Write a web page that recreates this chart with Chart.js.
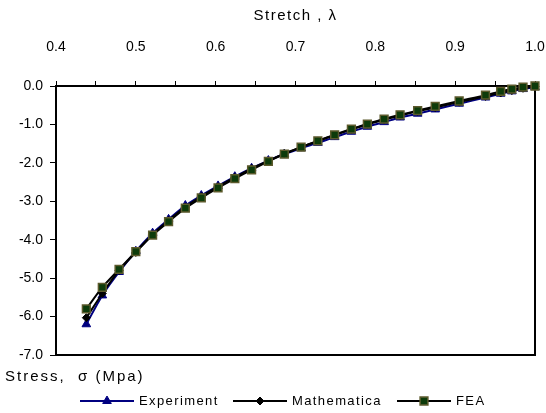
<!DOCTYPE html>
<html>
<head>
<meta charset="utf-8">
<script src="https://cdn.jsdelivr.net/npm/chart.js@4.4.0/dist/chart.umd.min.js"></script>
<style>
  html, body { margin: 0; padding: 0; background: #fff; }
  #wrap { position: relative; width: 546px; height: 413px; }
</style>
</head>
<body>
<div id="wrap"><canvas id="chart-stress" width="546" height="413"></canvas></div>
<script>
// stretch (lambda) values
const stretch = [0.438, 0.458, 0.479, 0.500, 0.521, 0.541, 0.562, 0.582, 0.603, 0.624,
  0.645, 0.666, 0.686, 0.707, 0.728, 0.749, 0.770, 0.790, 0.811, 0.831,
  0.853, 0.875, 0.905, 0.938, 0.957, 0.971, 0.985, 1.000];

// stress (Mpa)
const experiment = [-6.20, -5.45, -4.84, -4.30, -3.83, -3.47, -3.11, -2.85, -2.60, -2.36,
  -2.14, -1.94, -1.77, -1.62, -1.48, -1.33, -1.19, -1.06, -0.94, -0.82,
  -0.72, -0.61, -0.46, -0.30, -0.20, -0.14, -0.08, -0.03];
const mathematica = [-6.03, -5.40, -4.80, -4.33, -3.87, -3.50, -3.15, -2.88, -2.62, -2.38,
  -2.15, -1.95, -1.76, -1.59, -1.43, -1.28, -1.13, -1.00, -0.88, -0.77,
  -0.66, -0.56, -0.42, -0.27, -0.18, -0.12, -0.06, -0.01];
const fea = [-5.80, -5.24, -4.77, -4.31, -3.88, -3.53, -3.18, -2.91, -2.65, -2.41,
  -2.18, -1.96, -1.77, -1.59, -1.43, -1.27, -1.12, -0.99, -0.86, -0.75,
  -0.64, -0.53, -0.39, -0.24, -0.14, -0.08, -0.03, 0.00];

const seriesNames = ["Experiment", "Mathematica", "FEA"];
const xTicks = [0.4, 0.5, 0.6, 0.7, 0.8, 0.9, 1.0];
const yTicks = [0, -1, -2, -3, -4, -5, -6, -7];
const xTitle = "Stretch , λ";
const yTitle = "Stress,  σ (Mpa)";

const FONT = '"Liberation Sans", Arial, sans-serif';
const pts = vals => stretch.map((x, i) => ({ x, y: vals[i] }));

// ── box round the plot ──
const framePlugin = {
  id: "frame",
  beforeDatasetsDraw(chart) {
    const { ctx, chartArea: a } = chart;
    ctx.save();
    ctx.strokeStyle = "#000";
    ctx.lineWidth = 2;
    ctx.strokeRect(a.left, a.top, a.right - a.left, a.bottom - a.top);
    ctx.restore();
  }
};

// ── titles + legend row (excel style) ──
const legendX = [80, 233, 397];
const legendPlugin = {
  id: "excelLegend",
  afterDraw(chart) {
    const ctx = chart.ctx;
    const a = chart.chartArea;
    ctx.save();
    ctx.fillStyle = "#000";
    ctx.textBaseline = "middle";

    ctx.font = "15px " + FONT;
    ctx.letterSpacing = "1.5px";
    ctx.textAlign = "center";
    ctx.fillText(xTitle, (a.left + a.right) / 2, 16);

    ctx.textAlign = "left";
    ctx.letterSpacing = "2px";
    ctx.fillText(yTitle, 5, 377);

    const y = 401;
    ctx.font = "13px " + FONT;
    ctx.letterSpacing = "1.4px";
    chart.data.datasets.forEach((ds, i) => {
      const x0 = legendX[i];
      ctx.strokeStyle = ds.borderColor;
      ctx.lineWidth = 2;
      ctx.beginPath();
      ctx.moveTo(x0, y);
      ctx.lineTo(x0 + 54, y);
      ctx.stroke();
      ctx.fillStyle = ds.pointBackgroundColor;
      ctx.strokeStyle = ds.pointBorderColor;
      ctx.lineWidth = ds.pointBorderWidth;
      Chart.helpers.drawPoint(ctx, {
        pointStyle: ds.pointStyle,
        radius: ds.pointRadius,
        rotation: 0,
        borderWidth: ds.pointBorderWidth
      }, x0 + 27, y);
      ctx.fillStyle = "#000";
      ctx.fillText(ds.label, x0 + 59, y);
    });
    ctx.restore();
  }
};

new Chart(document.getElementById("chart-stress").getContext("2d"), {
  type: "scatter",
  data: {
    datasets: [
      {
        label: seriesNames[0],
        data: pts(experiment),
        showLine: true,
        borderColor: "#000080",
        borderWidth: 2,
        pointStyle: "triangle",
        pointRadius: 5,
        pointBackgroundColor: "#000080",
        pointBorderColor: "#000080",
        pointBorderWidth: 1,
        tension: 0.3,
        clip: false,
        order: 2
      },
      {
        label: seriesNames[1],
        data: pts(mathematica),
        showLine: true,
        borderColor: "#000000",
        borderWidth: 2,
        pointStyle: "rectRot",
        pointRadius: 4,
        pointBackgroundColor: "#000000",
        pointBorderColor: "#000000",
        pointBorderWidth: 1,
        tension: 0.3,
        clip: false,
        order: 1
      },
      {
        label: seriesNames[2],
        data: pts(fea),
        showLine: true,
        borderColor: "#000000",
        borderWidth: 2,
        pointStyle: "rect",
        pointRadius: 5.5,
        pointBackgroundColor: "#0d3b0a",
        pointBorderColor: "#5c5a2c",
        pointBorderWidth: 1.5,
        tension: 0.3,
        clip: false,
        order: 0
      }
    ]
  },
  options: {
    responsive: false,
    animation: false,
    events: [],
    layout: { padding: { top: 0, left: 0, right: 11, bottom: 58 } },
    plugins: {
      legend: { display: false },
      tooltip: { enabled: false }
    },
    scales: {
      x: {
        type: "linear",
        position: "top",
        min: 0.4,
        max: 1.0,
        afterBuildTicks: axis => {
          const t = [];
          xTicks.forEach((v, i) => {
            t.push({ value: v });
            if (i < xTicks.length - 1) t.push({ value: +(v + 0.05).toFixed(2) });
          });
          axis.ticks = t;
        },
        afterFit: s => {
          s.height = 86;
          s.paddingLeft = 0;
          s.paddingRight = 0;
        },
        ticks: {
          color: "#000",
          font: { family: FONT, size: 14 },
          padding: 25,
          maxRotation: 0,
          autoSkip: false,
          callback: v => xTicks.some(t => Math.abs(t - v) < 1e-6) ? v.toFixed(1) : ""
        },
        grid: {
          drawOnChartArea: false,
          tickLength: 5,
          tickColor: "#000",
          tickWidth: 1
        },
        border: { display: true, color: "#000", width: 2 }
      },
      y: {
        type: "linear",
        min: -7,
        max: 0,
        afterBuildTicks: axis => { axis.ticks = yTicks.map(v => ({ value: v })); },
        afterFit: s => {
          s.width = 56;
          s.paddingTop = 0;
          s.paddingBottom = 0;
        },
        ticks: {
          color: "#000",
          font: { family: FONT, size: 14 },
          padding: 7,
          callback: v => v.toFixed(1)
        },
        grid: {
          drawOnChartArea: false,
          tickLength: 6,
          tickColor: "#000",
          tickWidth: 1
        },
        border: { display: true, color: "#000", width: 2 }
      }
    }
  },
  plugins: [framePlugin, legendPlugin]
});
</script>
</body>
</html>
